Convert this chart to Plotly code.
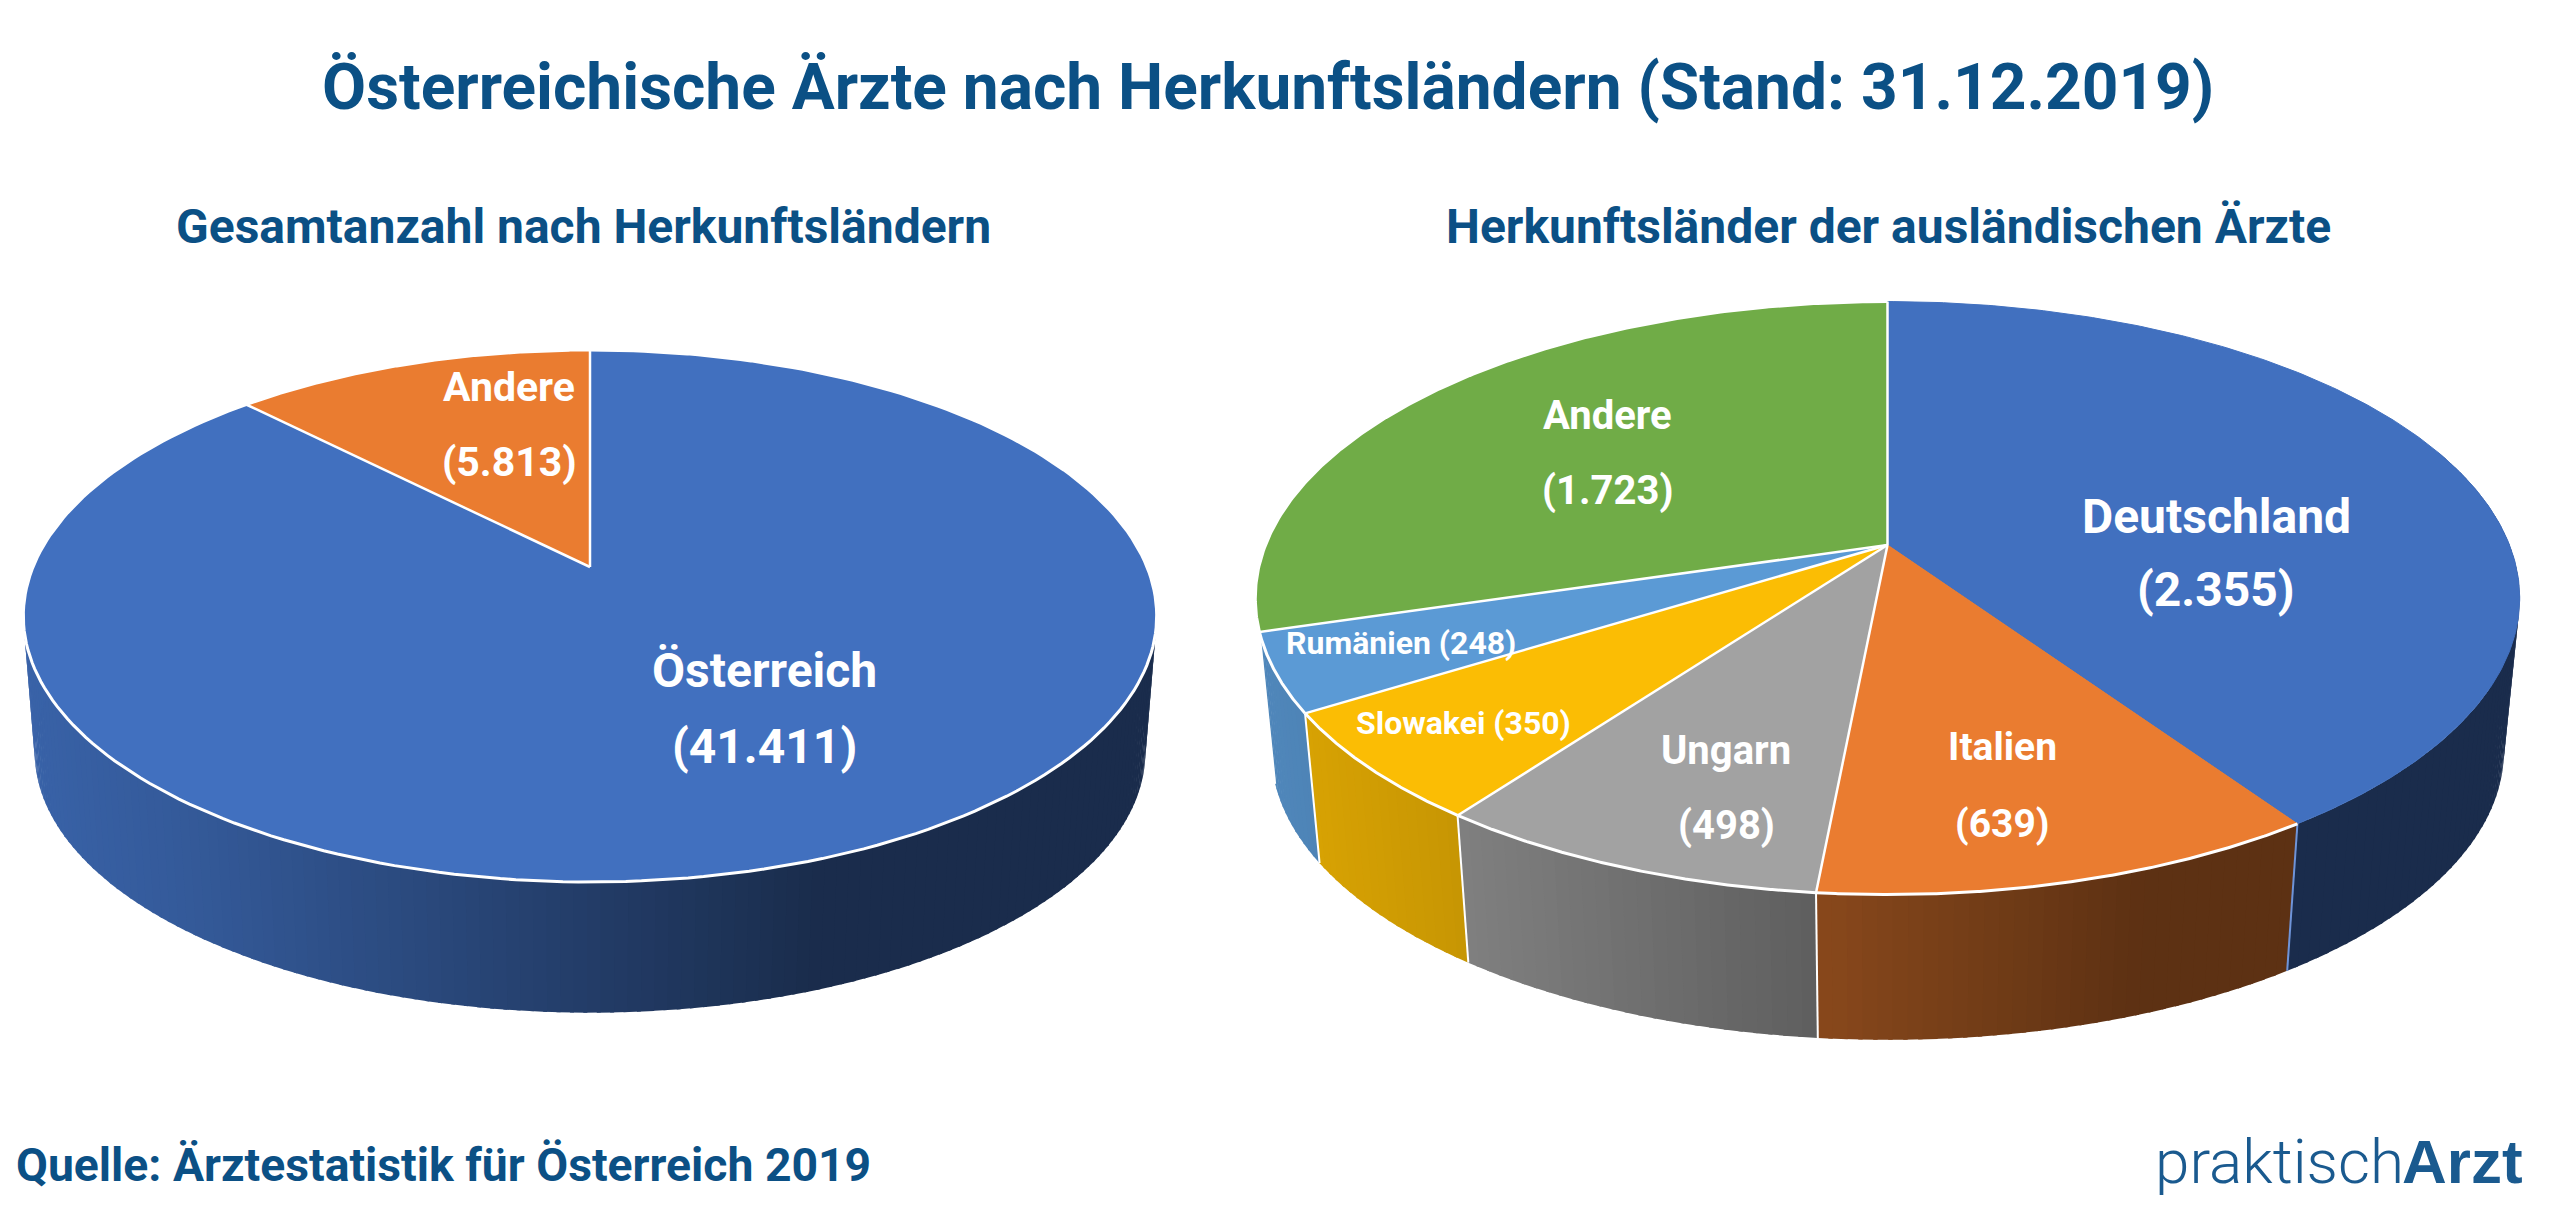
import numpy as np
import plotly.graph_objects as go

# ---------- data ----------
left_labels = ["Österreich", "Andere"]
left_values = [41411, 5813]
right_labels = ["Deutschland", "Italien", "Ungarn", "Slowakei", "Rumänien", "Andere"]
right_values = [2355, 639, 498, 350, 248, 1723]

title_text = "Österreichische Ärzte nach Herkunftsländern (Stand: 31.12.2019)"
left_title = "Gesamtanzahl nach Herkunftsländern"
right_title = "Herkunftsländer der ausländischen Ärzte"
source_text = "Quelle: Ärztestatistik für Österreich 2019"

# ---------- style / layout ----------
W, H = 2560, 1212
NAVY = "#0b5085"
left_colors = ["#4170bf", "#ea7c30"]
right_colors = ["#4170bf", "#ea7c30", "#a2a2a2", "#fbbd04", "#5b9ad5", "#70ac47"]
LEFT_GEOM = dict(cx=590, cy=567, a=557, b=257, k=0.184, depth=137, s=0.98)
RIGHT_GEOM = dict(cx=1887.5, cy=545, a=622, b=287, k=0.179, depth=154, s=0.975)
SHADE_T = [-1, -0.7, -0.1, 0.4, 1]
SHADE_F = [0.88, 0.80, 0.58, 0.40, 0.40]


def project(theta, g, low=False):
    """Perspective projection of a unit-circle angle (clockwise from top)."""
    X, Y = np.sin(theta), -np.cos(theta)
    d = 1 - g["k"] * Y
    s = g["s"] if low else 1.0
    off = g["depth"] if low else 0.0
    return g["cx"] + s * g["a"] * X / d, g["cy"] + off + s * g["b"] * Y / d


def hexrgb(c):
    return [int(c[i:i + 2], 16) for i in (1, 3, 5)]


def poly(x, y, color, stroke=True):
    return go.Scatter(x=x, y=y, mode="lines", fill="toself", fillcolor=color,
                      line=dict(color=color, width=1 if stroke else 0),
                      hoverinfo="skip", showlegend=False)


def line(x, y, color="#ffffff", width=3):
    return go.Scatter(x=x, y=y, mode="lines", line=dict(color=color, width=width),
                      hoverinfo="skip", showlegend=False)


def pie3d(values, colors, g, no_rim=(), no_edge=(), no_side=()):
    traces = []
    vals = np.array(values, float)
    edges = np.concatenate([[0], np.cumsum(vals)]) / vals.sum() * 2 * np.pi
    halfw = g["a"] / np.sqrt(1 - g["k"] ** 2)
    # side wall: thin bands shaded by horizontal position
    for i, c in enumerate(colors):
        if i in no_side:
            continue
        rgb = hexrgb(c)
        n = max(2, int((edges[i + 1] - edges[i]) / 0.02))
        th = np.linspace(edges[i], edges[i + 1], n + 1)
        for t0, t1 in zip(th[:-1], th[1:]):
            if np.cos((t0 + t1) / 2) > 0.35:
                continue
            tt = np.linspace(t0, min(t1 + 0.006, edges[i + 1]), 3)
            xu, yu = project(tt, g)
            xl, yl = project(tt[::-1], g, low=True)
            f = np.interp((xu.mean() - g["cx"]) / halfw, SHADE_T, SHADE_F)
            col = "rgb(%d,%d,%d)" % tuple(int(v * f) for v in rgb)
            traces.append(poly(list(xu) + list(xl), list(yu) + list(yl), col, stroke=False))
    # seams on visible side wall
    for i in range(1, len(colors)):
        e = edges[i]
        if np.cos(e) < 0.1:
            xu, yu = project(np.array([e]), g)
            xl, yl = project(np.array([e]), g, low=True)
            col = "#6f94d8" if i in no_edge else "#ffffff"
            traces.append(line([xu[0], xl[0]], [yu[0], yl[0]], col, 2))
    # top face
    for i, c in enumerate(colors):
        th = np.linspace(edges[i], edges[i + 1], 240)
        x, y = project(th, g)
        traces.append(poly([g["cx"]] + list(x) + [g["cx"]], [g["cy"]] + list(y) + [g["cy"]], c))
    # white outlines
    for i in range(len(colors)):
        if i not in no_rim:
            th = np.linspace(edges[i], edges[i + 1], 240)
            x, y = project(th, g)
            traces.append(line(list(x), list(y)))
        if i not in no_edge:
            x, y = project(np.array([edges[i]]), g)
            traces.append(line([g["cx"], x[0]], [g["cy"], y[0]], width=2.5))
    return traces


fig = go.Figure()
fig.add_traces(pie3d(left_values, left_colors, LEFT_GEOM))
fig.add_traces(pie3d(right_values, right_colors, RIGHT_GEOM, no_rim=(0,), no_edge=(1,), no_side=(5,)))


def de(v):
    return "({:,})".format(v).replace(",", ".")


def text(x, y, s, size, color="#ffffff", anchor="center", family="Roboto", weight=700):
    fig.add_annotation(x=x, y=y, text=s, showarrow=False, xanchor=anchor, yanchor="middle",
                       font=dict(family=family, size=size, color=color, weight=weight))


text(1268, 87, title_text, 64, NAVY)
text(583, 226, left_title, 48, NAVY)
text(1888, 226, right_title, 48, NAVY)
text(14, 1165, source_text, 46.3, NAVY, anchor="left")

# slice labels: name position, value position, size
left_pos = [((764, 670), (764, 746), 48), ((509, 387), (509, 462), 41)]
for name, v, (p1, p2, sz) in zip(left_labels, left_values, left_pos):
    text(*p1, name, sz)
    text(*p2, de(v), sz)

right_pos = [((2216, 516), (2216, 589), 48), ((2002, 747), (2002, 824), 39),
             ((1726, 750), (1726, 825), 40), None, None, ((1607, 415), (1607, 490), 40)]
right_single = {3: ((1463, 723), 32), 4: ((1401, 643), 32)}
for i, (name, v) in enumerate(zip(right_labels, right_values)):
    if right_pos[i] is not None:
        p1, p2, sz = right_pos[i]
        text(*p1, name, sz)
        text(*p2, de(v), sz)
    else:
        p, sz = right_single[i]
        text(*p, f"{name} {de(v)}", sz)

# logo wordmark
text(2406, 1161, "praktisch", 62, "#1a5a8f", anchor="right", family="Roboto", weight=300)
text(2400, 1161, "Arzt", 62, "#1a5a8f", anchor="left", family="Liberation Sans", weight=700)

fig.update_layout(
    width=W, height=H, margin=dict(l=0, r=0, t=0, b=0),
    paper_bgcolor="#ffffff", plot_bgcolor="#ffffff", showlegend=False,
    xaxis=dict(range=[0, W], visible=False, fixedrange=True),
    yaxis=dict(range=[H, 0], visible=False, fixedrange=True),
)
fig.write_html("out.html", config={"displayModeBar": False},
               post_script="document.body.style.margin='0';")
